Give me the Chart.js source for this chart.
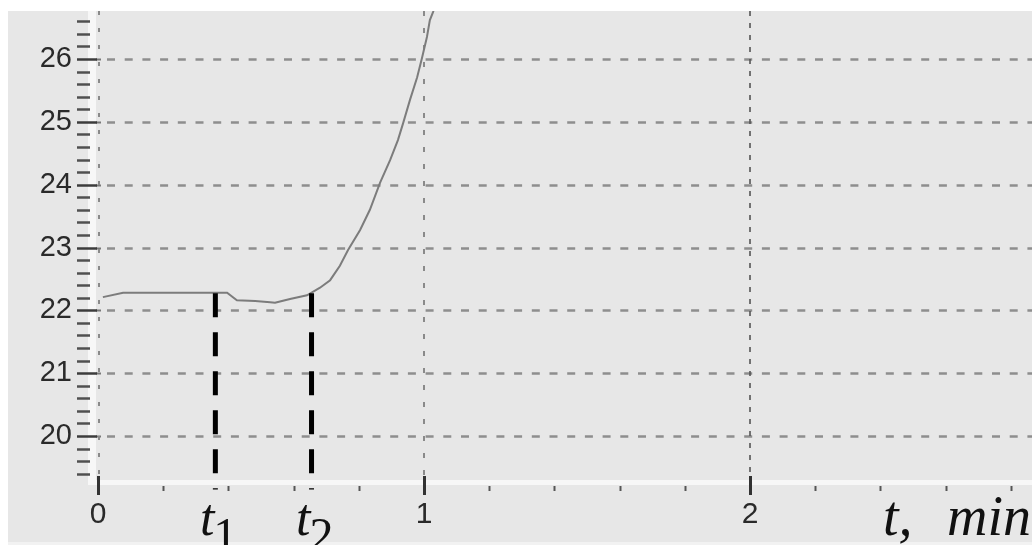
<!DOCTYPE html>
<html>
<head>
<meta charset="utf-8">
<script src="https://cdn.jsdelivr.net/npm/chart.js@4.4.1/dist/chart.umd.min.js"></script>
<style>
  html, body { margin: 0; padding: 0; background: #ffffff; }
  #wrap { width: 1032px; height: 545px; position: relative; }
</style>
</head>
<body>
<div id="wrap"><canvas id="c" width="1032" height="545"></canvas></div>
<script>
// ---- data ----
const timeMin = [0.015, 0.077, 0.19, 0.313, 0.396, 0.426, 0.482, 0.528, 0.543, 0.589, 0.641, 0.681, 0.712, 0.742, 0.767, 0.804, 0.834, 0.865, 0.896, 0.920, 0.936, 0.957, 0.979, 0.994, 1.009, 1.018, 1.028, 1.036];
const temperature = [22.21, 22.28, 22.28, 22.28, 22.28, 22.16, 22.15, 22.13, 22.12, 22.18, 22.24, 22.36, 22.48, 22.71, 22.96, 23.28, 23.60, 24.03, 24.39, 24.71, 24.98, 25.35, 25.71, 26.02, 26.35, 26.62, 26.75, 26.90];
const yTickValues = [20, 21, 22, 23, 24, 25, 26];
const xTickValues = [0, 1, 2];
const markTimes = [0.36, 0.655];
const markLabels = ['1', '2'];
const markTop = 22.27;
const markBottom = 19.15;
const xAxisTitle = ['t,', 'min'];

const yMin = 19.268, yMax = 26.764;
const xMin = 0, xMax = 2.865;

const curve = timeMin.map((t, i) => ({ x: t, y: temperature[i] }));

const markDatasets = markTimes.map(t => ({
  type: 'line',
  data: [{ x: t, y: markTop }, { x: t, y: markBottom }],
  borderColor: '#000000',
  borderWidth: 5,
  borderDash: [24, 15],
  borderCapStyle: 'butt',
  pointRadius: 0,
  clip: false,
  order: 0
}));

function line(ctx, x1, y1, x2, y2, color, width, dash, offset) {
  ctx.save();
  ctx.strokeStyle = color;
  ctx.lineWidth = width;
  ctx.setLineDash(dash || []);
  ctx.lineDashOffset = offset || 0;
  ctx.beginPath();
  ctx.moveTo(x1, y1);
  ctx.lineTo(x2, y2);
  ctx.stroke();
  ctx.restore();
}

const decor = {
  id: 'decor',
  beforeDraw(chart) {
    const ctx = chart.ctx;
    const W = chart.width, H = chart.height;
    ctx.save();
    ctx.fillStyle = '#ffffff';
    ctx.fillRect(0, 0, W, H);
    ctx.fillStyle = '#e7e7e7';
    ctx.fillRect(8, 11, W - 8, H - 11 - 3);
    ctx.fillStyle = '#f2f2f2';
    ctx.fillRect(8, H - 3, W - 8, 3);
    ctx.restore();
  },
  beforeDatasetsDraw(chart) {
    const ctx = chart.ctx;
    const xs = chart.scales.x, ys = chart.scales.y;
    const ca = chart.chartArea;
    // white strips along the axes
    ctx.save();
    ctx.fillStyle = '#f7f7f7';
    ctx.fillRect(88, ca.top, 8, ca.bottom + 3 - ca.top);
    ctx.fillRect(88, ca.bottom - 2, ca.right - 88, 5);
    ctx.restore();
    // horizontal grid
    yTickValues.forEach(v => {
      const y = Math.round(ys.getPixelForValue(v)) + 0.5;
      line(ctx, 107, y, ca.right, y, '#8e8e8e', 2.5, [8, 9.7], 0);
      line(ctx, 96, y, 101, y, '#777777', 2);
    });
    // vertical grid
    const x0 = xs.getPixelForValue(xTickValues[0]) + 1;
    line(ctx, x0, ca.top, x0, ca.bottom, '#8a8a8a', 2, [4, 13], 0);
    const x1 = xs.getPixelForValue(xTickValues[1]);
    line(ctx, x1, ca.top, x1, ca.bottom, '#8a8a8a', 2, [5, 12], 0);
    const x2 = xs.getPixelForValue(xTickValues[2]);
    line(ctx, x2, ca.top, x2, ca.bottom, '#555555', 1.6, [5, 7], 0);
  },
  afterDatasetsDraw(chart) {
    const ctx = chart.ctx;
    const xs = chart.scales.x, ys = chart.scales.y;
    const ca = chart.chartArea;
    // y minor / major ticks
    for (let k = Math.ceil(yMin * 5); k <= Math.floor(yMax * 5); k++) {
      const v = k / 5;
      const y = Math.round(ys.getPixelForValue(v)) + 0.5;
      const major = Math.abs(v - Math.round(v)) < 1e-6;
      if (major) line(ctx, 77, y, 97, y, '#3c3c3c', 2.5);
      else line(ctx, 77, y, 90, y, '#505050', 2.5);
    }
    // x minor / major ticks
    for (let k = Math.ceil(xMin * 5); k <= Math.floor(xMax * 5); k++) {
      const v = k / 5;
      const x = Math.round(xs.getPixelForValue(v)) + 0.5;
      const major = Math.abs(v - Math.round(v)) < 1e-6;
      if (major) line(ctx, x, ca.bottom - 6, x, ca.bottom + 13, '#333333', 3);
      else line(ctx, x, ca.bottom + 4, x, ca.bottom + 9, '#555555', 2);
    }
  },
  afterDraw(chart) {
    const ctx = chart.ctx;
    const xs = chart.scales.x;
    ctx.save();
    ctx.fillStyle = '#111111';
    ctx.textBaseline = 'alphabetic';
    markTimes.forEach((t, i) => {
      const x = xs.getPixelForValue(t);
      ctx.font = 'italic 52px "Liberation Serif", "DejaVu Serif", serif';
      ctx.textAlign = 'right';
      ctx.fillText('t', x - 1, 535);
      ctx.font = '48px "Liberation Serif", "DejaVu Serif", serif';
      ctx.textAlign = 'left';
      ctx.fillText(markLabels[i], x - 2, 551);
    });
    ctx.font = 'italic 56px "Liberation Serif", "DejaVu Serif", serif';
    ctx.textAlign = 'left';
    ctx.fillText(xAxisTitle[0], 883, 535);
    ctx.textAlign = 'right';
    ctx.fillText(xAxisTitle[1], 1031, 535);
    ctx.restore();
  }
};

new Chart(document.getElementById('c'), {
  type: 'line',
  data: {
    datasets: [{
      data: curve,
      borderColor: '#7c7c7c',
      borderWidth: 2,
      pointRadius: 0,
      tension: 0,
      order: 1
    }, ...markDatasets]
  },
  options: {
    responsive: false,
    animation: false,
    devicePixelRatio: 1,
    layout: { padding: { top: 11, right: 0, bottom: 0, left: 0 } },
    plugins: { legend: { display: false }, tooltip: { enabled: false } },
    scales: {
      x: {
        type: 'linear',
        min: xMin,
        max: xMax,
        grid: { display: false, drawTicks: false },
        border: { display: false },
        ticks: {
          stepSize: 1,
          includeBounds: false,
          autoSkip: false,
          maxRotation: 0,
          padding: 15,
          color: '#2a2a2a',
          font: { family: '"Liberation Sans", Arial, sans-serif', size: 30 }
        },
        afterBuildTicks(scale) { scale.ticks = xTickValues.map(v => ({ value: v })); },
        afterFit(scale) {
          scale.height = 63;
          scale.paddingLeft = 0; scale.paddingRight = 0;
          scale.paddingTop = 0; scale.paddingBottom = 0;
        }
      },
      y: {
        type: 'linear',
        min: yMin,
        max: yMax,
        grid: { display: false, drawTicks: false },
        border: { display: false },
        ticks: {
          stepSize: 1,
          includeBounds: false,
          autoSkip: false,
          padding: 26,
          color: '#2a2a2a',
          font: { family: '"Liberation Sans", Arial, sans-serif', size: 29 }
        },
        afterBuildTicks(scale) { scale.ticks = yTickValues.map(v => ({ value: v })); },
        afterFit(scale) {
          scale.width = 98;
          scale.paddingLeft = 0; scale.paddingRight = 0;
          scale.paddingTop = 0; scale.paddingBottom = 0;
        }
      }
    }
  },
  plugins: [decor]
});
</script>
</body>
</html>
